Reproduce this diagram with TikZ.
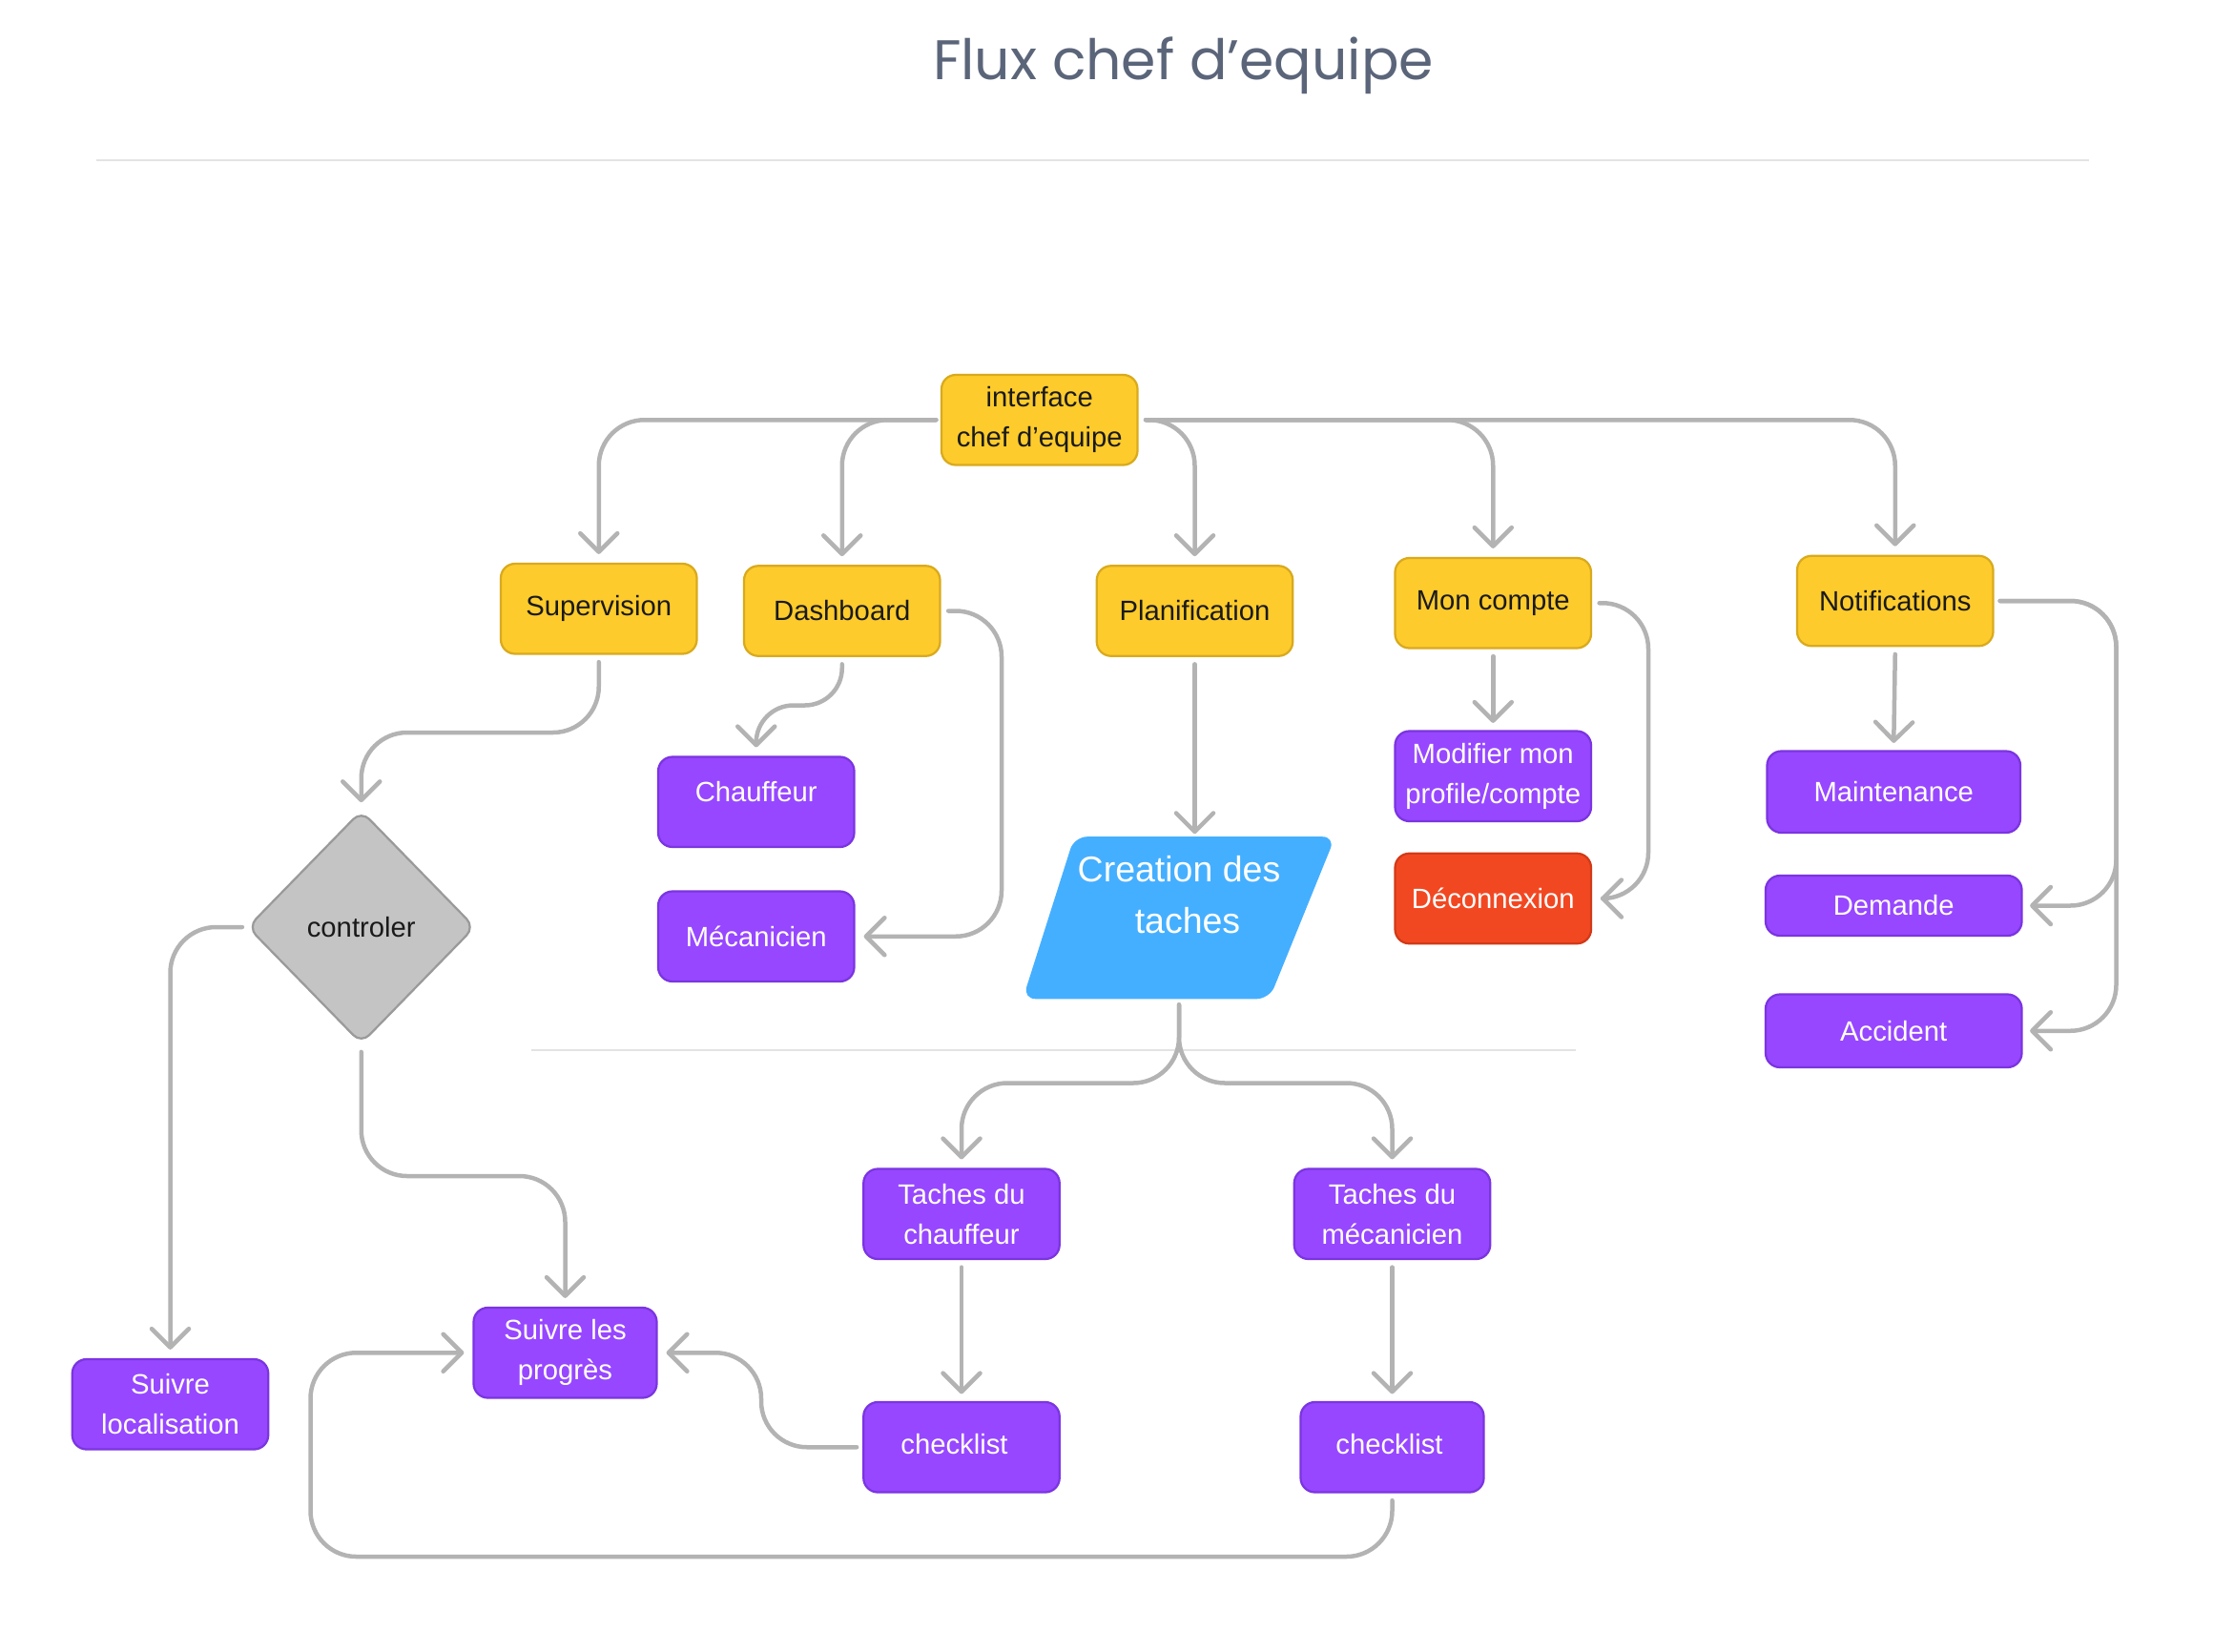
\documentclass[tikz,border=0pt]{standalone}
\usepackage{fontspec}
\setmainfont{Liberation Sans}
\newfontfamily\titlefont{Poppins}
\usetikzlibrary{shapes.geometric,arrows.meta}
\pgfdeclarelayer{bg}
\pgfsetlayers{bg,main}
\definecolor{yel}{HTML}{FDCB2C}
\definecolor{yelb}{HTML}{D9AA1E}
\definecolor{pur}{HTML}{9747FF}
\definecolor{purb}{HTML}{7B35E0}
\definecolor{redf}{HTML}{F24822}
\definecolor{redb}{HTML}{D23A18}
\definecolor{blu}{HTML}{45AFFF}
\definecolor{dia}{HTML}{C4C4C4}
\definecolor{diab}{HTML}{9A9A9A}
\definecolor{lineg}{HTML}{B3B3B3}
\definecolor{sepg}{HTML}{E3E3E3}
\definecolor{titlec}{HTML}{5B657A}
\definecolor{ink}{HTML}{1A1A1A}
\begin{document}
\begin{tikzpicture}[x=1pt,y=-1pt,
  box/.style={rounded corners=10pt, minimum width=137pt, minimum height=63pt, inner sep=0pt,
    line width=1.5pt, align=center, font=\fontsize{19.5}{28}\selectfont},
  ybox/.style={box, fill=yel, draw=yelb, text=ink},
  pbox/.style={box, fill=pur, draw=purb, text=white},
  rbox/.style={box, fill=redf, draw=redb, text=white},
  conn/.style={draw=lineg, line width=3pt, rounded corners=32pt, line cap=round, line join=round,
    -{Straight Barb[length=13pt,width=26pt,round]}},
  sepline/.style={draw=sepg, line width=1pt}
]
\begin{pgfonlayer}{bg}
\fill[white] (0,0) rectangle (1561.33,1154);
\end{pgfonlayer}
\useasboundingbox (0,0) rectangle (1561.33,1154);

\node[text=titlec, font=\titlefont\fontsize{39}{44}\selectfont] (title) at (827,46) {Flux chef d’equipe};
\draw[sepline] (67,112) -- (1460,112);
\draw[sepline] (371,734) -- (1101,734);

% nodes
\node[ybox] (ice) at (726.5,293.5) {interface\\chef d’equipe};
\node[ybox] (sup) at (418.5,425.5) {Supervision};
\node[ybox] (dash) at (588.5,427) {Dashboard};
\node[ybox] (plan) at (835,427) {Planification};
\node[ybox] (mon) at (1043.5,421.5) {Mon compte};
\node[ybox] (notif) at (1324.5,420) {Notifications};
\node[pbox] (chauf) at (528.5,560.5) {\raisebox{14pt}{Chauffeur}};
\node[pbox] (mec) at (528.5,654.5) {Mécanicien};
\node[pbox] (modif) at (1043.5,542.5) {Modifier mon\\profile/compte};
\node[rbox] (decon) at (1043.5,628) {Déconnexion};
\node[pbox, minimum width=177pt, minimum height=57pt] (maint) at (1323.5,553.5) {Maintenance};
\node[pbox, minimum width=179pt, minimum height=42pt] (dem) at (1323.5,633) {Demande};
\node[pbox, minimum width=179pt, minimum height=51pt] (acc) at (1323.5,720.5) {Accident};
\node[pbox] (tch) at (672,848.5) {Taches du\\chauffeur};
\node[pbox] (tme) at (973,848.5) {Taches du\\mécanicien};
\node[pbox] (ck1) at (672,1011.5) {\raisebox{4pt}{checklist\hspace{10pt}}};
\node[pbox, minimum width=128pt] (ck2) at (973,1011.5) {\raisebox{4pt}{checklist\hspace{4pt}}};
\node[pbox, minimum width=128pt] (suiv) at (395,945.5) {Suivre les\\progrès};
\node[pbox] (loc) at (119,981.5) {Suivre\\localisation};
\node[diamond, fill=dia, draw=diab, line width=1.5pt, minimum width=159pt, minimum height=163pt,
  inner sep=0pt, rounded corners=8pt, text=ink, font=\fontsize{19.5}{28}\selectfont] (ctrl) at (252.5,648) {controler};
\node[rectangle, minimum width=218pt, minimum height=113pt, inner sep=0pt,
  text=white, font=\fontsize{25}{36}\selectfont] (cre) at (824,641.5)
  {\raisebox{8pt}[0pt][0pt]{\begin{tabular}{@{}c@{}}Creation des\\\hspace{12pt}taches\end{tabular}}};
\begin{pgfonlayer}{bg}
\fill[blu, rounded corners=9pt] ([xshift=36pt]cre.north west) -- (cre.north east)
  -- ([xshift=-46pt]cre.south east) -- (cre.south west) -- cycle;
\end{pgfonlayer}

% connectors
\draw[conn] ([xshift=-3pt]ice.west) -| ([yshift=6pt]sup.north);
\draw[conn] ([xshift=-3pt]ice.west) -| ([yshift=6pt]dash.north);
\draw[conn] ([xshift=5pt]ice.east) -| ([yshift=6pt]plan.north);
\draw[conn] ([xshift=5pt]ice.east) -| ([yshift=6pt]mon.north);
\draw[conn] ([xshift=5pt]ice.east) -| ([yshift=6pt]notif.north);

\draw[conn] ([yshift=-5pt]sup.south) -- (sup.south |- 0,512) -| ([yshift=5pt]ctrl.north);
\draw[conn, rounded corners=26pt] ([yshift=-5pt]dash.south) -- (dash.south |- 0,493) -| ([yshift=6pt]chauf.north);
\draw[conn] ([xshift=5pt]dash.east) -- (dash.east -| 700,0) -- (mec.east -| 700,0) -- ([xshift=6pt]mec.east);
\draw[conn] ([yshift=-5pt]plan.south) -- ([yshift=2pt]plan.south |- cre.north);
\draw[conn] ([yshift=-5pt]mon.south) -- ([yshift=5pt]modif.north);
\draw[conn] ([xshift=5pt]mon.east) -- (mon.east -| 1152,0) -- (decon.east -| 1152,0) -- ([xshift=6pt]decon.east);
\draw[conn] ([yshift=-5pt]notif.south) -- ([yshift=5pt]maint.north);
\draw[conn] ([xshift=4pt]notif.east) -- (notif.east -| 1479,0) -- (dem.east -| 1479,0) -- ([xshift=5pt]dem.east);
\draw[conn] ([xshift=4pt]notif.east) -- (notif.east -| 1479,0) -- (acc.east -| 1479,0) -- ([xshift=5pt]acc.east);

\draw[conn] ([yshift=-4pt]cre.south) -- (cre.south |- 0,757) -| ([yshift=6pt]tch.north);
\draw[conn] ([yshift=-4pt]cre.south) -- (cre.south |- 0,757) -| ([yshift=6pt]tme.north);
\draw[conn] ([yshift=-5pt]tch.south) -- ([yshift=5pt]ck1.north);
\draw[conn] ([yshift=-5pt]tme.south) -- ([yshift=5pt]ck2.north);

\draw[conn] ([xshift=-4pt]ck1.west) -- (ck1.west -| 532,0) -- (suiv.east -| 532,0) -- ([xshift=6pt]suiv.east);
\draw[conn] ([yshift=-5pt]ck2.south) -- (ck2.south |- 0,1088) -- (217,1088) -- (suiv.west -| 217,0) -- ([xshift=-6pt]suiv.west);

\draw[conn] ([xshift=-3pt]ctrl.west) -| ([yshift=6pt]loc.north);
\draw[conn] ([yshift=-5pt]ctrl.south) -- (ctrl.south |- 0,822) -| ([yshift=6pt]suiv.north);
\end{tikzpicture}
\end{document}
